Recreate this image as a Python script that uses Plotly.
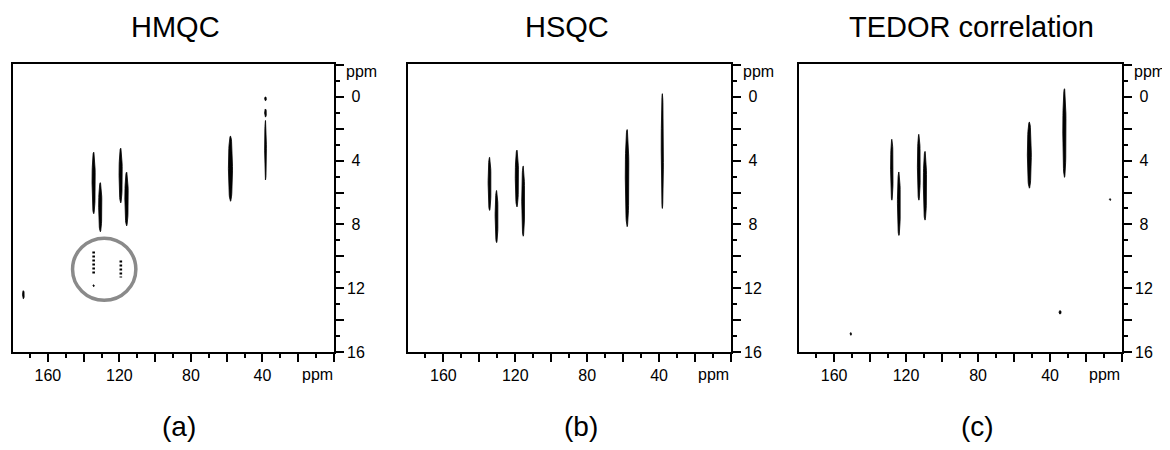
import numpy as np
import plotly.graph_objects as go

# peak lists: 13C shift, 1H start, 1H end, 13C width (ppm)
hmqc_c = [134.4, 130.7, 119.3, 116.0, 57.9, 38.3, 38.3, 38.3, 173.7, 134.4]
hmqc_h0 = [3.47, 5.38, 3.22, 4.72, 2.46, 0.0, 0.76, 1.48, 12.15, 11.78]
hmqc_h1 = [7.33, 8.46, 6.65, 8.09, 6.55, 0.25, 1.27, 5.21, 12.66, 11.9]
hmqc_w = [1.8, 1.8, 1.8, 1.9, 2.3, 1.0, 1.0, 1.0, 1.0, 0.8]

# weak (dotted) peaks inside the circle
weak_c = [134.4, 119.2]
weak_h0 = [9.69, 10.26]
weak_h1 = [11.18, 11.32]
circle_c, circle_h = 128.5, 10.81
circle_rc, circle_rh = 17.7, 1.95

hsqc_c = [134.3, 130.4, 119.1, 115.6, 57.8, 38.2]
hsqc_h0 = [3.79, 5.87, 3.34, 4.34, 2.05, -0.2]
hsqc_h1 = [7.12, 9.14, 6.90, 8.74, 8.14, 7.0]
hsqc_w = [1.6, 1.6, 1.8, 1.6, 2.0, 1.2]

tedor_c = [127.9, 124.0, 112.9, 109.5, 51.5, 32.0, 6.6, 34.4, 150.7]
tedor_h0 = [2.66, 4.71, 2.35, 3.42, 1.58, -0.51, 6.38, 13.4, 14.78]
tedor_h1 = [6.48, 8.69, 6.48, 7.73, 5.73, 5.05, 6.50, 13.62, 14.95]
tedor_w = [1.4, 1.6, 1.6, 1.8, 2.2, 1.8, 0.8, 1.2, 0.8]

titles = ["HMQC", "HSQC", "TEDOR correlation"]
panel_labels = ["(a)", "(b)", "(c)"]
x_ticks = [0, 20, 40, 60, 80, 100, 120, 140, 160]
x_ticktext = ["", "", "40", "", "80", "", "120", "", "160"]
y_ticks = [-2, 0, 2, 4, 6, 8, 10, 12, 14, 16]
y_ticktext = ["", "\u00a00", "", "\u00a04", "", "\u00a08", "", "12", "", "16"]

FONT = "Liberation Sans, Arial, sans-serif"

# the page body has an 8px margin, so the figure is made a bit smaller
OFF = 8
W, H = 1170 - OFF, 450 - OFF


def px_x(px):
    return (px - OFF) / W


def px_y(py):
    return 1 - (py - OFF) / H


def ellipses(cs, h0s, h1s, ws):
    t = np.linspace(0, 2 * np.pi, 48)
    xs, ys = [], []
    for c, a, b, w in zip(cs, h0s, h1s, ws):
        xs += list(c + w / 2 * np.cos(t)) + [None]
        ys += list((a + b) / 2 + (b - a) / 2 * np.sin(t)) + [None]
    return xs, ys


fig = go.Figure()
panels = [(hmqc_c, hmqc_h0, hmqc_h1, hmqc_w),
          (hsqc_c, hsqc_h0, hsqc_h1, hsqc_w),
          (tedor_c, tedor_h0, tedor_h1, tedor_w)]
for i, p in enumerate(panels):
    xs, ys = ellipses(*p)
    sfx = "" if i == 0 else str(i + 1)
    fig.add_trace(go.Scatter(x=xs, y=ys, mode="lines", fill="toself",
                             fillcolor="black", line=dict(color="black", width=0.8),
                             xaxis="x" + sfx, yaxis="y" + sfx, showlegend=False,
                             hoverinfo="skip"))

for c, a, b in zip(weak_c, weak_h0, weak_h1):
    fig.add_trace(go.Scatter(x=[c, c], y=[a, b], mode="lines",
                             line=dict(color="black", width=2.6, dash="2px,2px"),
                             xaxis="x", yaxis="y", showlegend=False, hoverinfo="skip"))

fig.add_shape(type="circle", xref="x", yref="y",
              x0=circle_c - circle_rc, x1=circle_c + circle_rc,
              y0=circle_h - circle_rh, y1=circle_h + circle_rh,
              line=dict(color="#8a8a8a", width=3.5))

x_domains = [[px_x(13), px_x(334)], [px_x(408.3), px_x(731)], [px_x(799), px_x(1122)]]
y_domain = [px_y(359.2), px_y(65.3)]
title_x = [175, 567, 971]
label_x = [179, 581, 977]

layout = dict(width=W, height=H, margin=dict(l=0, r=0, t=0, b=0),
              plot_bgcolor="white", paper_bgcolor="white",
              font=dict(family=FONT, color="black", size=16))
for i in range(3):
    sfx = "" if i == 0 else str(i + 1)
    layout["xaxis" + sfx] = dict(
        domain=x_domains[i], range=[179.5, 0], anchor="y" + sfx,
        showgrid=False, zeroline=False, showline=True, mirror=True,
        linecolor="black", linewidth=1.8,
        ticks="outside", ticklen=8, tickwidth=1.5, tickcolor="black",
        tickmode="array", tickvals=x_ticks, ticktext=x_ticktext,
        minor=dict(tickmode="array", tickvals=list(range(10, 180, 20)),
                   ticks="outside", ticklen=4, tickwidth=1.5, tickcolor="black"),
        tickfont=dict(size=16))
    layout["yaxis" + sfx] = dict(
        domain=y_domain, range=[16, -2.05], anchor="x" + sfx, side="right",
        showgrid=False, zeroline=False, showline=True, mirror=True,
        linecolor="black", linewidth=1.8,
        ticks="outside", ticklen=8, tickwidth=1.5, tickcolor="black",
        tickmode="array", tickvals=y_ticks, ticktext=y_ticktext,
        minor=dict(tickmode="array", tickvals=list(range(-1, 16, 2)),
                   ticks="outside", ticklen=4, tickwidth=1.5, tickcolor="black"),
        tickfont=dict(size=16))
fig.update_layout(**layout)

for i in range(3):
    sfx = "" if i == 0 else str(i + 1)
    fig.add_annotation(x=px_x(title_x[i]), y=px_y(27), xref="paper", yref="paper",
                       text=titles[i], showarrow=False, font=dict(size=29),
                       xanchor="center", yanchor="middle")
    fig.add_annotation(x=px_x(label_x[i]), y=px_y(435), xref="paper", yref="paper",
                       text=panel_labels[i], showarrow=False, font=dict(size=28),
                       xanchor="center", yanchor="middle")
    # x-axis unit
    fig.add_annotation(x=9.5, y=0, xref="x" + sfx, yref="y" + sfx + " domain",
                       text="ppm", showarrow=False, font=dict(size=16),
                       xanchor="center", yanchor="top", yshift=-12)
    # y-axis unit
    fig.add_annotation(x=1, y=-1.6, xref="x" + sfx + " domain", yref="y" + sfx,
                       text="ppm", showarrow=False, font=dict(size=16),
                       xanchor="left", yanchor="middle", xshift=10)

fig.write_html("out.html")
